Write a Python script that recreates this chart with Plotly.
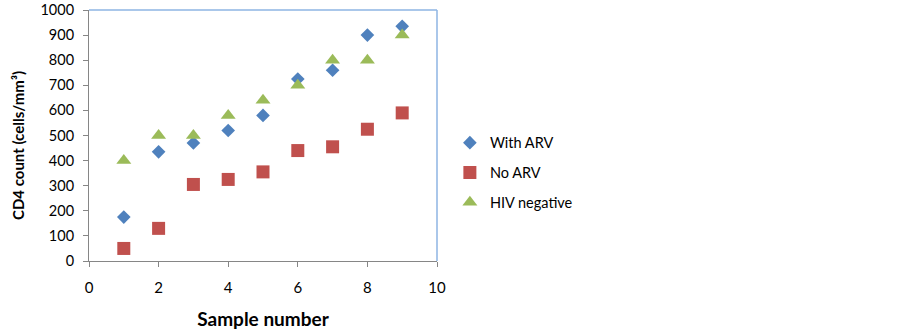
import plotly.graph_objects as go

samples = [1, 2, 3, 4, 5, 6, 7, 8, 9]
with_arv = [175, 435, 470, 520, 580, 725, 760, 900, 935]
no_arv = [50, 130, 305, 325, 355, 440, 455, 525, 590]
hiv_negative = [400, 500, 500, 580, 640, 700, 800, 800, 900]

FONT = "Lato"
fig = go.Figure()
fig.add_trace(go.Scatter(x=samples, y=with_arv, mode="markers", name="With ARV", legendgroup="a",
                         marker=dict(symbol="diamond", size=10.5, color="#4F81BD")))
fig.add_trace(go.Scatter(x=samples, y=no_arv, mode="markers", name="No ARV", legendgroup="b",
                         marker=dict(symbol="square", size=13, color="#C0504D")))
fig.add_trace(go.Scatter(x=samples, y=hiv_negative, mode="markers", name="HIV negative", legendgroup="c",
                         marker=dict(symbol="triangle-up", size=13, color="#9BBB59")))

fig.update_layout(
    width=902, height=335,
    margin=dict(l=89, r=465, t=10, b=74),
    plot_bgcolor="white", paper_bgcolor="white",
    font=dict(family=FONT, size=15, color="#000000"),
    showlegend=True,
    legend=dict(x=1.037, y=0.535, xanchor="left", yanchor="top", traceorder="grouped",
                tracegroupgap=8, font=dict(size=14.5), bgcolor="rgba(0,0,0,0)"),
    xaxis=dict(range=[0, 10], dtick=2, showgrid=False, zeroline=False, automargin=False,
               showline=True, linecolor="#868686", ticks="outside", ticklen=5, tickcolor="#868686",
               tickfont=dict(size=15), ticklabelstandoff=8,
               title=dict(text="<b>Sample number</b>", font=dict(size=19), standoff=17)),
    yaxis=dict(range=[0, 1000], dtick=100, showgrid=False, zeroline=False, automargin=False,
               showline=True, linecolor="#868686", ticks="outside", ticklen=5, tickcolor="#868686",
               tickfont=dict(size=14.5), ticklabelstandoff=6, ticklabeloverflow="allow"),
    annotations=[
        dict(text="<b>CD4 count (cells/mm³)</b>", textangle=-90, xref="paper", yref="paper",
             x=(18 - 89) / 348, y=(261 - 146) / 251, xanchor="center", yanchor="middle",
             showarrow=False, font=dict(size=15)),
    ],
    shapes=[
        dict(type="line", xref="paper", yref="paper", x0=0, x1=1, y0=1, y1=1,
             line=dict(color="#8EB4E3", width=1.5)),
        dict(type="line", xref="paper", yref="paper", x0=1, x1=1, y0=0, y1=1,
             line=dict(color="#8EB4E3", width=1.5)),
    ],
)

fig.write_html("out.html", config={"displayModeBar": False},
               post_script="document.body.style.margin='0';")
